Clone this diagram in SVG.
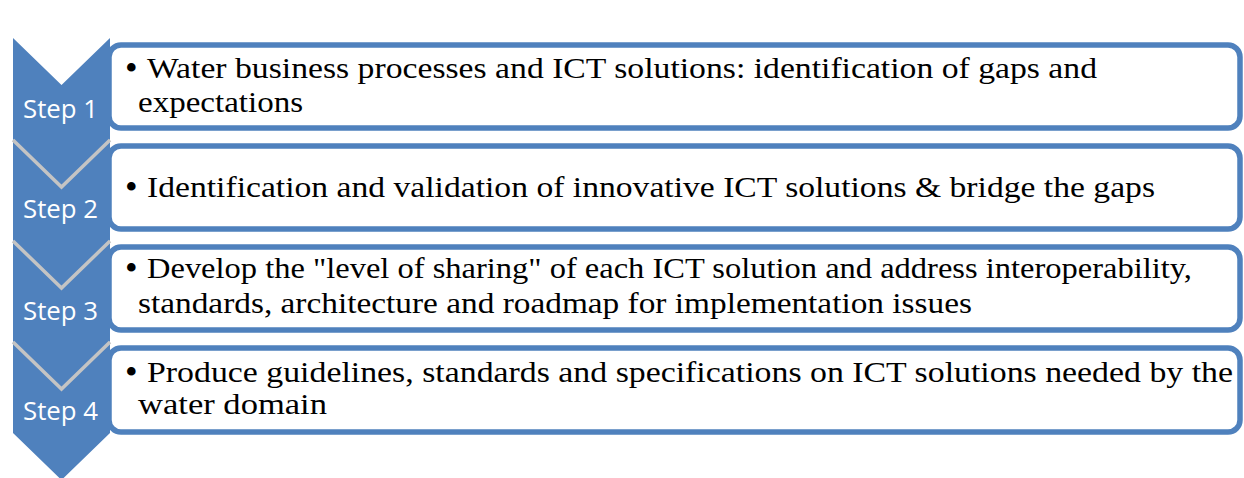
<svg xmlns="http://www.w3.org/2000/svg" width="1244" height="478" viewBox="0 0 1244 478">
  <style>
    .box { fill: #ffffff; stroke: #4F81BD; stroke-width: 5.5; }
    .chev { fill: #4F81BD; }
    .shade { fill: none; stroke: #c4c4c4; stroke-width: 3.5; stroke-linejoin: miter; }
    .step { font-family: 'Open Sans', 'Liberation Sans', sans-serif; font-size: 25px; fill: #ffffff; }
    .txt { font-family: 'Liberation Serif', serif; font-size: 29px; fill: #000000; }
    .bul { font-family: 'Liberation Serif', serif; font-size: 36px; fill: #000000; }
  </style>
  <rect width="1244" height="478" fill="#ffffff"/>

  <g id="box1">
    <rect class="box" x="109" y="45" width="1131" height="83" rx="12" ry="12"/>
    <text class="bul" x="125" y="80">•</text>
    <text class="txt" x="147" y="78" textLength="950" lengthAdjust="spacingAndGlyphs">Water business processes and ICT solutions: identification of gaps and</text>
    <text class="txt" x="138" y="112" textLength="165" lengthAdjust="spacingAndGlyphs">expectations</text>
  </g>
  <g id="box2">
    <rect class="box" x="109" y="146" width="1131" height="83" rx="12" ry="12"/>
    <text class="bul" x="125" y="199">•</text>
    <text class="txt" x="147" y="197" textLength="1008" lengthAdjust="spacingAndGlyphs">Identification and validation of innovative ICT solutions &amp; bridge the gaps</text>
  </g>
  <g id="box3">
    <rect class="box" x="109" y="247" width="1131" height="83" rx="12" ry="12"/>
    <text class="bul" x="125" y="280">•</text>
    <text class="txt" x="147" y="278" textLength="1045" lengthAdjust="spacingAndGlyphs">Develop the "level of sharing" of each ICT solution and address interoperability,</text>
    <text class="txt" x="138" y="313" textLength="834" lengthAdjust="spacingAndGlyphs">standards, architecture and roadmap for implementation issues</text>
  </g>
  <g id="box4">
    <rect class="box" x="109" y="348" width="1131" height="84" rx="12" ry="12"/>
    <text class="bul" x="125" y="384">•</text>
    <text class="txt" x="147" y="382" textLength="1086" lengthAdjust="spacingAndGlyphs">Produce guidelines, standards and specifications on ICT solutions needed by the</text>
    <text class="txt" x="138" y="414" textLength="189" lengthAdjust="spacingAndGlyphs">water domain</text>
  </g>

  <g id="step1">
    <polygon class="chev" points="13,38 61.5,85 110,38 110,139 61.5,186 13,139"/>
    <text class="step" x="23" y="118" textLength="75" lengthAdjust="spacingAndGlyphs">Step 1</text>
  </g>
  <g id="step2">
    <polygon class="chev" points="13,139 61.5,186 110,139 110,240 61.5,287 13,240"/>
    <polyline class="shade" points="13,140 61.5,187 110,140"/>
    <text class="step" x="23" y="218" textLength="75" lengthAdjust="spacingAndGlyphs">Step 2</text>
  </g>
  <g id="step3">
    <polygon class="chev" points="13,240 61.5,287 110,240 110,341 61.5,388 13,341"/>
    <polyline class="shade" points="13,241 61.5,288 110,241"/>
    <text class="step" x="23" y="320" textLength="75" lengthAdjust="spacingAndGlyphs">Step 3</text>
  </g>
  <g id="step4">
    <polygon class="chev" points="13,341 61.5,388 110,341 110,433 61.5,480 13,433"/>
    <polyline class="shade" points="13,342 61.5,389 110,342"/>
    <text class="step" x="23" y="420" textLength="75" lengthAdjust="spacingAndGlyphs">Step 4</text>
  </g>
  <g id="connectors"></g>
</svg>
